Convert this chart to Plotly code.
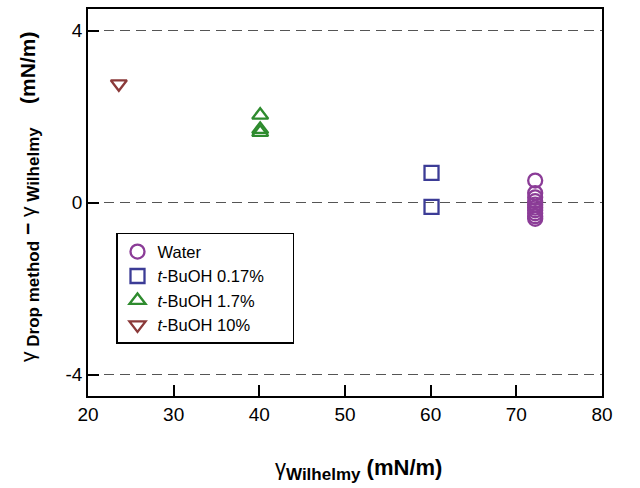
import plotly.graph_objects as go

# Data
water_x = [72.2, 72.2, 72.2, 72.2, 72.2, 72.2, 72.2, 72.2, 72.2, 72.2]
water_y = [0.51, 0.22, 0.12, 0.03, -0.05, -0.12, -0.18, -0.25, -0.32, -0.38]
b017_x = [60.1, 60.1]
b017_y = [0.69, -0.1]
b17_x = [40.1, 40.1, 40.1]
b17_y = [2.03, 1.70, 1.63]
b10_x = [23.6]
b10_y = [2.76]
y_ticks = [-4, 0, 4]
y_ticklabels = ["-4", "0", "4"]
x_ticks = [20, 30, 40, 50, 60, 70, 80]

series = [
    ("Water", water_x, water_y, "circle-open", "#8B3C97"),
    ("<i>t</i>-BuOH 0.17%", b017_x, b017_y, "square-open", "#3C3C96"),
    ("<i>t</i>-BuOH 1.7%", b17_x, b17_y, "triangle-up-open", "#2E8B2E"),
    ("<i>t</i>-BuOH 10%", b10_x, b10_y, "triangle-down-open", "#8B3A3A"),
]

fig = go.Figure()
for name, xs, ys, sym, col in series:
    fig.add_trace(go.Scatter(
        x=xs, y=ys, mode="markers", name=name + "&nbsp;&nbsp;&nbsp;&nbsp;&nbsp;",
        marker=dict(symbol=sym, size=14, color=col, line=dict(width=2.3, color=col)),
    ))

font = "Liberation Sans, Arial, sans-serif"
fig.update_layout(
    width=640, height=488,
    margin=dict(l=88, r=38, t=7, b=92),
    paper_bgcolor="white", plot_bgcolor="white",
    font=dict(family=font, size=19, color="black"),
    showlegend=True,
    legend=dict(
        x=(116 - 88) / 514, y=(396 - 232) / 389, xanchor="left", yanchor="top",
        bgcolor="white", bordercolor="black", borderwidth=1.5,
        font=dict(size=16.5, family=font),
        itemwidth=30, tracegroupgap=0,
    ),
    xaxis=dict(
        range=[20, 80], tickmode="array", tickvals=x_ticks,
        ticks="inside", ticklen=11, tickwidth=1.5, tickcolor="black",
        showline=True, linecolor="black", linewidth=1.5, mirror=True,
        showgrid=False, zeroline=False,
    ),
    yaxis=dict(
        range=[-4.5, 4.5], tickmode="array", tickvals=y_ticks, ticktext=y_ticklabels,
        ticks="inside", ticklen=11, tickwidth=1.5, tickcolor="black",
        showline=True, linecolor="black", linewidth=1.5, mirror=True,
        showgrid=True, gridcolor="#555555", gridwidth=1, griddash="10px,6px",
        zeroline=False,
    ),
    annotations=[
        dict(
            text="γ<sub><span style='font-size:17px'><b>Wilhelmy</b></span></sub> <b>(mN/m)</b>",
            xref="paper", yref="paper", x=(358 - 88) / 514, y=-0.19,
            xanchor="center", yanchor="middle", showarrow=False,
            font=dict(size=22, family=font),
        ),
        dict(
            text="γ<sub><span style='font-size:17px'><b>&nbsp;Drop method</b></span></sub><b> − </b>"
                 "γ<sub><span style='font-size:17px'><b>&nbsp;Wilhelmy</b></span></sub>"
                 "&nbsp;&nbsp;&nbsp;&nbsp;<b>(mN/m)</b>",
            xref="paper", yref="paper", x=-0.115, y=(396 - 196) / 389,
            xanchor="center", yanchor="middle", showarrow=False, textangle=-90,
            font=dict(size=21, family=font),
        ),
    ],
)

fig.write_html("out.html")
